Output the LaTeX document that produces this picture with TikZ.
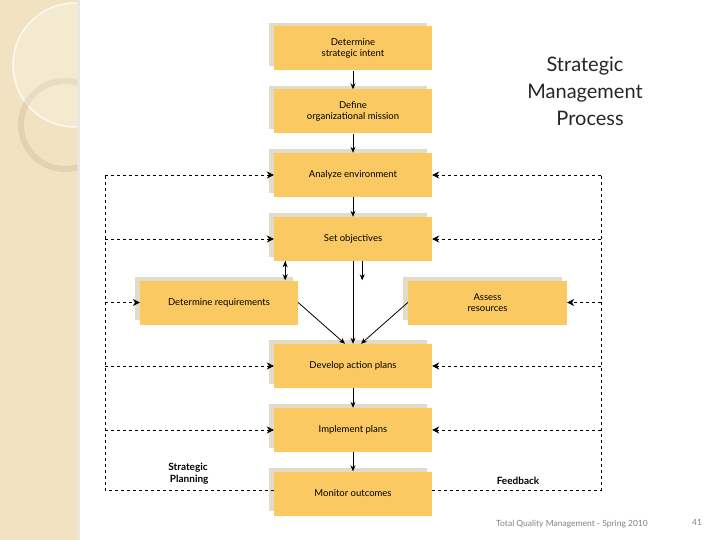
\documentclass[tikz,border=0pt]{standalone}
\usepackage{fontspec}
\setmainfont{Lato}
\usetikzlibrary{arrows.meta}
\definecolor{boxc}{HTML}{FBC962}
\definecolor{shad}{HTML}{E2DCC6}
\definecolor{band}{HTML}{F1E3C1}
\tikzset{
  proc/.style={fill=boxc, draw=none, minimum height=44pt, align=center, font=\fontsize{9.5}{11}\selectfont, inner sep=2pt},
  flow/.style={-{Stealth[length=6pt,width=5pt]}, thick},
  fb/.style={dashed, thick, -{Stealth[length=7pt,width=7pt]}},
  fbl/.style={dashed, thick},
}
\newcommand{\pbox}[5]{% name, x1,y1,x2,y2 text
  \fill[shad] (#2-5,#3-5) rectangle (#4-5,#5-5);
}
\begin{document}
\begin{tikzpicture}[x=1pt,y=-1pt]
\useasboundingbox (0,0) rectangle (720,540);
% left band
\fill[band] (0,0) rectangle (77,540);
\fill[shad!80!black!30] (77,0) rectangle (80,540);
\begin{scope}
\clip (0,0) rectangle (77,540);
\draw[white, line width=1.5pt, opacity=0.8] (75,65) circle (62);
\draw[shad!70!brown, line width=6pt, opacity=0.5] (65,125) circle (44);
\fill[white, opacity=0.25] (75,65) circle (62);
\end{scope}
% shadows
\foreach \a/\b/\c/\d in {274/27/432/70, 274/90/432/133, 274/153/432/197, 274/217/432/261, 140/281/298/324, 408/281/567/324, 274/344/432/388, 274/408/432/452, 274/472/432/515}
  \fill[shad] (\a-5,\b-4) rectangle (\d-5+\c-\d,\d-\d+\d-4+\b-\b) ;
% boxes
\node[proc, minimum width=158pt] (intent) at (353,48.5) {Determine\\strategic intent};
\node[proc, minimum width=158pt] (mission) at (353,111.5) {Define\\organizational mission};
\node[proc, minimum width=158pt] (env) at (353,175) {Analyze environment};
\node[proc, minimum width=158pt] (obj) at (353,239) {Set objectives};
\node[proc, minimum width=158pt] (req) at (219,302.5) {Determine requirements};
\node[proc, minimum width=159pt] (res) at (487.5,302.5) {Assess\\resources};
\node[proc, minimum width=158pt] (dev) at (353,366) {Develop action plans};
\node[proc, minimum width=158pt] (impl) at (353,430) {Implement plans};
\node[proc, minimum width=158pt] (mon) at (353,493.5) {Monitor outcomes};
% solid arrows
\draw[flow] (intent) -- (mission);
\draw[flow] (mission) -- (env);
\draw[flow] (env) -- (obj);
\draw[flow] (obj.south -| req.north east) ++(-13,0) coordinate (o1);
\draw[flow] (o1) -- (o1 |- req.north);
\coordinate (o2) at ([xshift=-70pt]obj.south east);
\draw[flow] (o2) -- (o2 |- res.north);
\draw[flow] (obj) -- (dev);
\draw[flow] (req.east) -- ([xshift=-8pt]dev.north);
\draw[flow] (res.west) -- ([xshift=8pt]dev.north);
\draw[flow] (dev) -- (impl);
\draw[flow] (impl) -- (mon);
% feedback
\coordinate (L) at (105,175);
\coordinate (R) at (601,175);
\draw[fbl] (mon.west |- 0,490) -| (L);
\draw[fbl] (mon.east |- 0,490) -| (R);
\foreach \n in {env,obj,req,dev,impl} \draw[fb] (L |- \n.west) -- (\n.west);
\foreach \n in {env,obj,res,dev,impl} \draw[fb] (R |- \n.east) -- (\n.east);
% labels
\node[font=\bfseries\fontsize{10}{12}\selectfont, align=center] (sp) at (188,474) {Strategic\\\ Planning};
\node[font=\bfseries\fontsize{10}{12}\selectfont] (fbk) at (518,481) {Feedback};
\node[font=\fontsize{20}{27}\selectfont, align=center, text=black!85] (title) at (585,91) {Strategic\\Management\\\ \ Process};
\node[font=\fontsize{8.5}{10}\selectfont, text=gray] (foot) at (572,524) {Total Quality Management - Spring 2010};
\node[font=\fontsize{8.5}{10}\selectfont, text=gray] (pg) at (697,522) {41};
\end{tikzpicture}
\end{document}
